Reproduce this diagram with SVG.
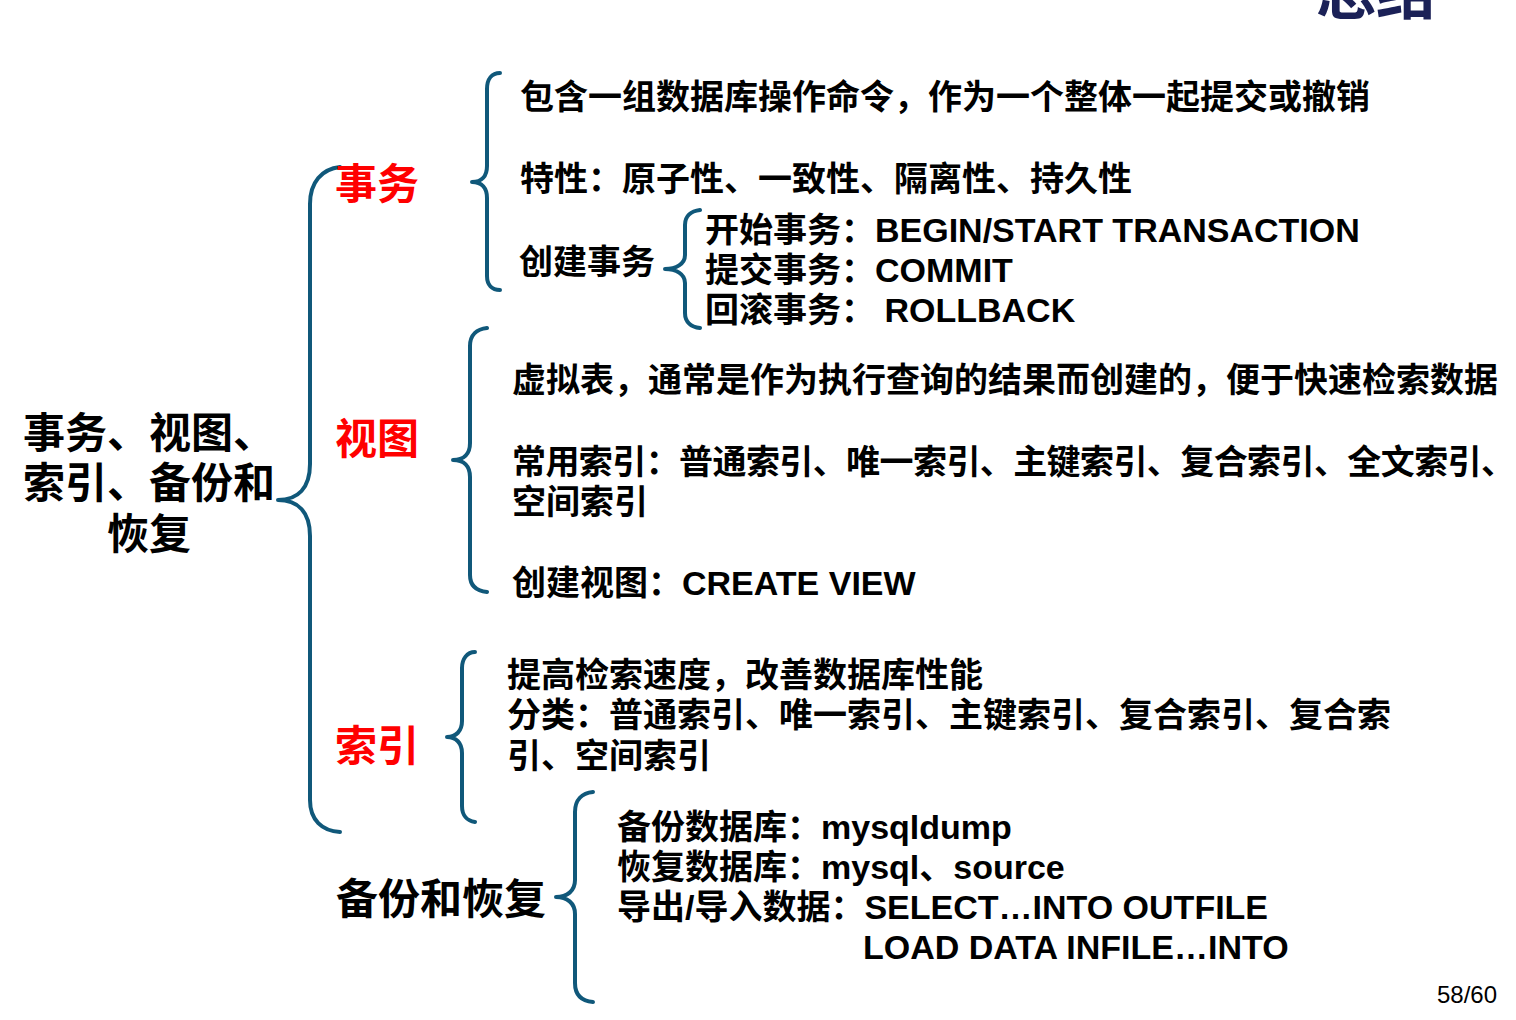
<svg xmlns="http://www.w3.org/2000/svg" width="1516" height="1020" viewBox="0 0 1516 1020">
<style>
.t{font-family:"Liberation Sans","Noto Sans CJK SC",sans-serif;font-weight:bold;font-size:34px;fill:#000}
.h{font-family:"Liberation Sans","Noto Sans CJK SC",sans-serif;font-weight:bold;font-size:42px;fill:#000}
.red{fill:#ff0000}
.br{fill:none;stroke:#10587a;stroke-width:4;stroke-linecap:round;stroke-linejoin:round}
</style>
<rect width="1516" height="1020" fill="#ffffff"/>
<g id="title">
<text x="1316" y="14" style="font-family:'Noto Sans CJK SC',sans-serif;font-weight:bold;font-size:60px;fill:#1b2157">总结</text>
</g>
<g id="connectors">
<path class="br" d="M340,167 C322,169 310,182 310,204 L310,464 C310,488 298,500 278,500 C298,500 310,512 310,536 L310,800 C310,820 322,831 340,832"/>
<path class="br" d="M500,73 C492,73 487,79 487,89 L487,166 C487,176 482,182 472,182 C482,182 487,188 487,198 L487,276 C487,285 492,290 500,290"/>
<path class="br" d="M700,210 C691,211 685,216 685,225 L685,255 C685,264 676,269 665,269 C676,269 685,274 685,283 L685,313 C685,322 691,327 700,328"/>
<path class="br" d="M487,328 C477,329 470,335 470,346 L470,443 C470,454 464,460 453,460 C464,460 470,466 470,477 L470,575 C470,586 477,591 487,592"/>
<path class="br" d="M475,652 C467,652 462,659 462,668 L462,721 C462,731 456,737 447,737 C456,737 462,743 462,753 L462,806 C462,815 467,821 475,822"/>
<path class="br" d="M593,792 C582,793 575,800 575,812 L575,880 C575,891 567,897 556,897 C567,897 575,903 575,914 L575,983 C575,995 582,1001 593,1002"/>
</g>
<g id="root">
<text class="h" text-anchor="middle" x="149" y="448">事务、视图、</text>
<text class="h" text-anchor="middle" x="149" y="498">索引、备份和</text>
<text class="h" text-anchor="middle" x="149" y="549">恢复</text>
</g>
<g id="shiwu">
<text class="h red" x="335" y="199">事务</text>
</g>
<g id="shiwu-def"><text class="t" x="520" y="109">包含一组数据库操作命令，作为一个整体一起提交或撤销</text></g>
<g id="shiwu-prop"><text class="t" x="520" y="191">特性：原子性、一致性、隔离性、持久性</text></g>
<g id="shiwu-create"><text class="t" x="519" y="274">创建事务</text></g>
<g id="shiwu-begin"><text class="t" x="705" y="242">开始事务：BEGIN/START TRANSACTION</text></g>
<g id="shiwu-commit"><text class="t" x="705" y="282">提交事务：COMMIT</text></g>
<g id="shiwu-rollback"><text class="t" x="705" y="322">回滚事务： ROLLBACK</text></g>
<g id="shitu">
<text class="h red" x="335" y="454">视图</text>
</g>
<g id="shitu-def"><text class="t" x="512" y="392">虚拟表，通常是作为执行查询的结果而创建的，便于快速检索数据</text></g>
<g id="shitu-index">
<text class="t" x="512" y="474" textLength="1003" lengthAdjust="spacing">常用索引：普通索引、唯一索引、主键索引、复合索引、全文索引、</text>
<text class="t" x="512" y="514">空间索引</text>
</g>
<g id="shitu-create"><text class="t" x="512" y="595">创建视图：CREATE VIEW</text></g>
<g id="suoyin">
<text class="h red" x="335" y="761">索引</text>
</g>
<g id="suoyin-detail">
<text class="t" x="507" y="687">提高检索速度，改善数据库性能</text>
<text class="t" x="507" y="727">分类：普通索引、唯一索引、主键索引、复合索引、复合索</text>
<text class="t" x="507" y="768">引、空间索引</text>
</g>
<g id="beifen">
<text class="h" x="336" y="914">备份和恢复</text>
</g>
<g id="beifen-detail">
<text class="t" x="617" y="839">备份数据库：mysqldump</text>
<text class="t" x="617" y="879">恢复数据库：mysql、source</text>
<text class="t" x="617" y="919">导出/导入数据：SELECT…INTO OUTFILE</text>
<text class="t" x="863" y="959">LOAD DATA INFILE…INTO</text>
</g>
<g id="page">
<text x="1437" y="1003" style="font-family:'Liberation Sans',sans-serif;font-size:24px;fill:#000">58/60</text>
</g>
</svg>
